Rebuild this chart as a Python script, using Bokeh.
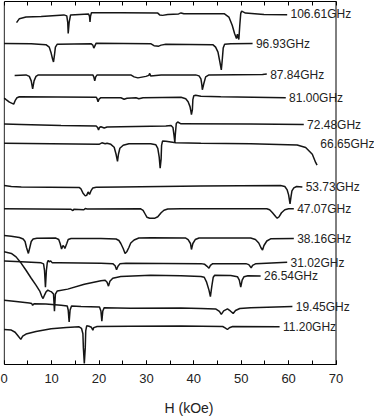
from bokeh.plotting import figure
from bokeh.models import (LinearAxis, SingleIntervalTicker, FixedTicker, LabelSet,
                          ColumnDataSource, Range1d, Span)
from bokeh.core.properties import value
from bokeh.embed import file_html
from bokeh.resources import INLINE

# ---- data: field H (kOe) and signal (arbitrary units, relative to each trace's baseline) ----
labels = ["106.61GHz", "96.93GHz", "87.84GHz", "81.00GHz", "72.48GHz", "66.65GHz",
          "53.73GHz", "47.07GHz", "38.16GHz", "31.02GHz", "26.54GHz", "19.45GHz", "11.20GHz"]
offsets = [353, 323, 292, 269, 241.5, 222.5, 179, 157, 127, 102.5, 89.5, 58, 37.5]
top_ticks = [0, 5, 10, 15, 20, 25, 30, 35, 40, 45, 50, 55, 60, 65, 70]

h_10661 = [2.6, 3.2, 4.6, 7.8, 12.6, 13.2, 13.4, 13.5, 13.7, 14.0, 17.8, 18.0, 18.1, 18.2, 18.4, 24.6, 32.4, 32.8,
           33.4, 34.5, 36.8, 37.3, 37.9, 46.4, 47.4, 48.1, 48.6, 49.0, 49.2, 49.5, 49.7, 49.9, 50.1, 50.9, 54.8, 59.7]
s_10661 = [-8.3, -4.3, -2.7, -2, -0.5, -1.5, -8, -19.3, -8, -0.5, 0.5, -2, -7.7, -2, 1.7, 1.7, 1.3, -0.5,
           -1, 0, 0.5, 1.5, 0.7, 0.7, -2.7, -11, -19.3, -24.3, -20, -25.3, -11, 1, 3.3, 1.3, 0, -0.3]

h_9693 = [0, 5.7, 8.8, 9.5, 9.9, 10.2, 10.4, 10.6, 10.8, 11.2, 18.3, 18.7, 18.9, 19.2, 19.4, 30.9, 31.6, 32.6,
          33.1, 34.1, 44.0, 44.6, 45.1, 45.5, 45.8, 46.0, 46.2, 46.5, 47.8, 52.4]
s_9693 = [0.7, 0.5, -0.5, -3, -9, -15, -18, -11, -3, 0, 0.5, -1, -4, -1, 1, 0.5, -1.5, -2,
          -1, 0, -0.5, -3, -8, -18, -26, -16, -4, 0, 0.5, 0.7]

h_8784 = [2.2, 4.6, 5.3, 5.7, 6.0, 6.3, 6.7, 7.2, 18.7, 18.9, 19.1, 19.3, 19.6, 26.7, 27.4, 28.2, 29.9, 30.5,
          30.7, 30.9, 33.1, 40.4, 41.1, 41.5, 41.7, 41.8, 42.1, 42.5, 43.2, 54.5, 55.4]
s_8784 = [-0.7, 0, -1.5, -6, -14, -6, -1.5, 0, 0, -2, -6, -2, 0, 0, -2, -3, -1.5, -0.5,
          1.5, -1, 0, 0, -1, -4, -10, -15, -9, -2, 0, 0.5, 1]

h_8100 = [0, 0.4, 1.1, 2.0, 2.3, 2.7, 3.2, 19.4, 19.6, 19.8, 20.0, 20.4, 24.6, 25.3, 25.9, 27.8, 28.4, 29.3,
          37.3, 38.3, 38.8, 39.2, 39.4, 39.5, 39.7, 39.8, 40.0, 40.4, 41.5, 45.7, 59.4]
s_8100 = [-0.5, -2, -4.5, -6.5, -3, 0, 1, 0.5, -1, -4, -1.5, 0, 0, -1.5, -0.5, 0, -1, 0,
          0.5, -1, -4, -9, -14, -17, -12, -2, 2, 2.5, 1.5, 1, 0]

h_7248 = [0, 3.6, 12.0, 19.4, 19.7, 19.9, 20.1, 20.4, 21.1, 21.7, 24.6, 34.1, 35.2, 35.6, 35.8, 36.0, 36.1,
          36.3, 36.6, 37.3, 52.0, 63.2]
s_7248 = [1, 0.5, -0.5, -1, -2.5, -5, -2.5, -1.8, -3, -2, -1.8, -1, -0.5, -2.5, -9.5, -17.5, -9.5,
          1.5, 3, 1.2, 1, 0.5]

h_6665 = [0, 9.9, 20.0, 20.6, 21.3, 21.7, 22.5, 23.2, 23.6, 23.9, 24.1, 24.4, 25.1, 26.3, 30.9, 32.0, 32.4,
          32.7, 32.9, 33.1, 33.2, 33.4, 34.1, 36.2, 41.5, 52.0, 61.8, 63.6, 65.0, 65.7, 66.0]
s_6665 = [0.5, 0, -0.5, 1, 0, 0.5, -0.5, -3.5, -10.5, -17.8, -10.5, -4.5, -1.5, 0, 0, -1, -4.5,
          -13.5, -24.5, -15.5, -1.5, 2.8, 2.5, 1, 0.5, 0, -1.2, -3.8, -10.5, -18.8, -21.5]

h_5373 = [0, 1.5, 3.6, 15.8, 16.2, 16.6, 17.1, 17.4, 17.7, 18.0, 18.3, 18.7, 19.4, 24.6, 41.5, 58.3, 59.2,
          59.7, 60.0, 60.3, 60.5, 60.7, 61.1, 61.7, 62.9]
s_5373 = [1.5, 0.5, 0, -0.5, -2, -6, -9, -8.5, -5, -7.5, -4, -1, -0.3, 0, 1, 1.5, 0.5,
          -3, -8, -17, -10, -4, -1, 0.5, 0]

h_4707 = [0, 14.1, 14.5, 14.7, 16.8, 17.1, 17.5, 28.8, 29.3, 29.7, 30.1, 30.7, 31.8, 32.4, 33.1, 33.7, 34.5,
          37.3, 55.4, 56.0, 56.6, 57.3, 57.6, 58.0, 58.5, 59.2, 60.0, 61.1]
s_4707 = [0, -0.5, -1.8, -0.5, -1, 0.2, -0.3, 0, -1.5, -5, -8.5, -9.5, -9.5, -8, -4, -1.5, -0.3,
          0, 0, -1, -4, -8, -9.5, -8, -4, -1, 0, 0]

h_3816 = [0, 1.5, 3.2, 4.0, 4.4, 4.7, 5.1, 5.4, 5.7, 6.1, 6.9, 10.9, 11.5, 11.8, 12.1, 12.4, 12.6, 12.8, 13.2,
          13.5, 14.1, 20.4, 23.6, 24.2, 24.6, 25.1, 25.5, 25.9, 26.3, 26.7, 27.4, 28.4, 30.9, 38.3, 38.8, 39.3,
          39.5, 39.8, 40.3, 41.1, 52.0, 53.0, 53.7, 54.2, 54.5, 54.8, 55.4, 56.2, 61.1]
s_3816 = [3, 2.3, 1, -0.5, -3, -9, -15, -9, -3, -0.5, 0.3, 0.5, -1, -5, -10.5, -7, -8, -10, -5,
          -1, 0, 0, -0.5, -2, -5, -10, -15, -13, -9, -4.5, -1.5, 0.5, 0.7, 0.5, -1, -5,
          -11, -5, -1, 0.5, 0.5, -1, -4.5, -9.5, -11.5, -7, -2.5, -0.3, 0]

h_3102 = [0, 3.6, 7.8, 8.3, 8.5, 8.7, 8.9, 9.1, 9.3, 9.5, 9.8, 10.1, 11.6, 20.4, 22.9, 23.4, 23.7, 24.0, 24.4,
          25.7, 41.5, 42.3, 42.8, 43.2, 43.5, 44.0, 51.0, 51.6, 52.1, 52.4, 53.1, 59.7]
s_3102 = [1.8, 1, 0, -1, -7.5, -24.5, -7.5, 0.5, 2.5, 1, 2, 0.2, 0.2, -0.5, -0.8, -3, -7, -3.5, -1,
          -0.5, -0.8, -1.5, -3.5, -5.5, -2.5, -0.8, -0.8, -1.8, -5, -2.5, -0.8, 0.5]

h_2654 = [0, 1.5, 2.5, 3.6, 4.6, 5.7, 6.7, 7.5, 7.9, 8.2, 8.5, 8.8, 9.2, 9.6, 10.0, 10.4, 10.6, 10.8, 11.2,
          13.4, 16.9, 20.4, 21.3, 21.7, 22.0, 22.3, 22.9, 24.6, 30.9, 37.3, 41.5, 42.2, 42.7, 43.2, 43.5, 43.8,
          44.1, 44.4, 47.8, 49.2, 49.6, 49.9, 50.2, 50.6, 51.4, 54.1]
s_2654 = [24.2, 22.5, 19, 12.5, 5.5, -2.5, -9.5, -15.5, -20.5, -23, -19.5, -16.5, -14.5, -15.5, -16.3, -18.5,
          -35.8, -18.5, -15.3, -13.5, -8.5, -5, -4.5, -6.5, -10.5, -5.5, -2.5, -0.8, 0.5, 0, -0.8, -1.5, -6.5,
          -14.5, -21, -10.5, -1.5, 0.5, 0.2, -1, -4.5, -11.5, -4.5, -1, 0, -0.2]

h_1945 = [0, 2.5, 5.3, 5.8, 6.0, 6.3, 8.8, 12.0, 13.3, 13.5, 13.7, 13.9, 14.2, 16.2, 20.1, 20.4, 20.6, 20.8,
          21.1, 26.7, 37.3, 41.5, 44.6, 45.4, 45.8, 46.3, 47.1, 47.7, 48.3, 48.8, 49.7, 52.0, 60.8]
s_1945 = [6.7, 5.5, 4, 3.5, 1.7, 3.3, 3, 1.7, 1, -3, -15, -3, 1, 0.5, 0, -4, -14.3, -4,
          -0.7, -1.3, -1, -1.5, -2, -4.5, -7.5, -4, -2, -4, -6.5, -3.5, -1.5, -0.7, 0.5]

h_1120 = [0, 1.5, 2.3, 2.9, 3.5, 3.9, 4.6, 6.7, 9.9, 13.1, 15.8, 16.3, 16.6, 16.7, 16.9, 17.1, 17.2, 17.4,
          17.9, 18.4, 18.7, 18.9, 19.6, 26.7, 37.3, 46.1, 46.6, 47.1, 47.5, 48.2, 58.1]
s_1120 = [-2.2, -2.8, -5, -8.5, -12.2, -9, -6.8, -4.2, -1.5, -0.2, 0.5, -1, -6.5, -20.5, -36.5, -20.5, -3.5,
          1.5, 1, 0, -3, -0.3, 0.8, 1, 1.2, 0.8, -0.5, -2.2, -0.5, 0.8, 0.5]

fields = [h_10661, h_9693, h_8784, h_8100, h_7248, h_6665, h_5373, h_4707, h_3816, h_3102, h_2654, h_1945, h_1120]
signals = [s_10661, s_9693, s_8784, s_8100, s_7248, s_6665, s_5373, s_4707, s_3816, s_3102, s_2654, s_1945, s_1120]

FONT = "Liberation Sans"
H_MIN, H_MAX = 0, 70

# frame runs to the right canvas edge so the frequency labels are not clipped;
# the visible box is drawn with axis lines (bounded to 0..70) and two spans
p = figure(width=374, height=418, x_range=Range1d(-0.15, 78.12), y_range=Range1d(0, 366),
           output_backend="svg", toolbar_location=None, y_axis_location=None, title=None,
           min_border_left=3, min_border_right=0, min_border_top=1, min_border_bottom=51,
           x_axis_label="H (kOe)")
p.background_fill_color = "white"
p.border_fill_color = "white"
p.outline_line_color = None
p.grid.visible = False

xa = p.xaxis[0]
xa.ticker = SingleIntervalTicker(interval=10, num_minor_ticks=2)
xa.bounds = (H_MIN, H_MAX)
xa.axis_line_color = "black"
xa.axis_line_width = 1
xa.major_tick_in = 4
xa.major_tick_out = 0
xa.minor_tick_in = 4
xa.minor_tick_out = 0
xa.major_tick_line_color = "black"
xa.minor_tick_line_color = "black"
xa.major_label_text_font = FONT
xa.major_label_text_font_size = "13px"
xa.major_label_text_color = "#222222"
xa.major_label_standoff = 9
xa.axis_label_text_font = FONT
xa.axis_label_text_font_size = "14px"
xa.axis_label_text_font_style = "normal"
xa.axis_label_text_color = "#222222"
xa.axis_label_standoff = 14

top = LinearAxis(ticker=FixedTicker(ticks=[], minor_ticks=top_ticks), bounds=(H_MIN, H_MAX),
                 axis_line_color="black", axis_line_width=1,
                 major_tick_in=4, major_tick_out=0, minor_tick_in=4, minor_tick_out=0,
                 minor_tick_line_color="black", major_label_standoff=0)
p.add_layout(top, "above")

p.add_layout(Span(location=H_MIN, dimension="height", line_color="black", line_width=1))
p.add_layout(Span(location=H_MAX, dimension="height", line_color="black", line_width=1))

for h, s, off in zip(fields, signals, offsets):
    p.line(x=h, y=[off + v for v in s], line_color="#151515", line_width=1.5)

lab_src = ColumnDataSource(dict(
    x=[h[-1] + 0.7 for h in fields],
    y=offsets,
    text=labels,
))
p.add_layout(LabelSet(x="x", y="y", text="text", source=lab_src,
                      text_font=value(FONT), text_font_size="12px",
                      text_baseline="middle", text_align="left", text_color="#222222"))

open("out.html", "w").write(file_html(p, INLINE))
